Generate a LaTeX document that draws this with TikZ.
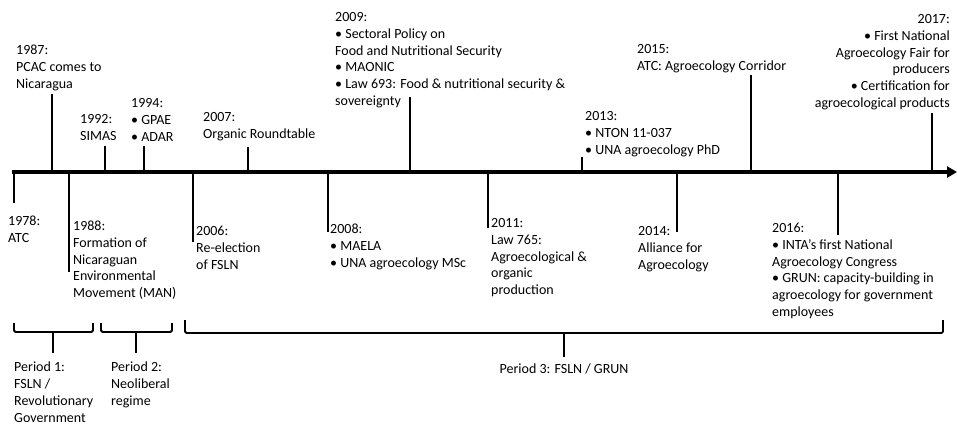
\documentclass[tikz,border=0pt]{standalone}
\usepackage{fontspec}
\setmainfont{Carlito}
\usetikzlibrary{arrows.meta}
\begin{document}
\begin{tikzpicture}[x=1pt,y=-1pt,
  lbl/.style={font=\fontsize{14}{16.7}\selectfont, inner sep=0pt, align=left, anchor=north west},
  lblr/.style={lbl, align=right, anchor=north east},
  tick/.style={line width=1.1pt},
  axis/.style={line width=4pt, -{Triangle[length=10pt,width=11pt]}},
  brace/.style={line width=1.8pt, rounded corners=1.5pt}]
\useasboundingbox (0,0) rectangle (957,421);
% axis
\coordinate (a0) at (12,172);
\coordinate (a1) at (957,172);
\draw[axis] (a0) -- (a1);
% upward ticks
\foreach \n/\x/\t in {u87/52/94, u92/105/146, u94/144/146, u07/248/147, u09/410/97, u13/582/157, u15/751/75, u17/932/113}{
  \coordinate (\n b) at (\x,172);
  \coordinate (\n t) at (\x,\t);
  \draw[tick] (\n b) -- (\n t);
}
% downward ticks
\foreach \n/\x/\t in {d78/14/203, d88/69/272, d06/193/242, d08/328/232, d11/488/228, d14/677/232, d16/838/235}{
  \coordinate (\n b) at (\x,172);
  \coordinate (\n t) at (\x,\t);
  \draw[tick] (\n b) -- (\n t);
}
% upper labels
\node[lbl] (t87) at (16,43) {\strut 1987:\\PCAC comes to\\Nicaragua};
\node[lbl] (t92) at (80,112) {\strut 1992:\\SIMAS};
\node[lbl] (t94) at (131,96) {\strut 1994:\\• GPAE\\• ADAR};
\node[lbl] (t07) at (203,110) {\strut 2007:\\Organic Roundtable};
\node[lbl] (t09) at (335,10) {\strut 2009:\\• Sectoral Policy on\\Food and Nutritional Security\\• MAONIC\\• Law 693: Food \& nutritional security \&\\sovereignty};
\node[lbl] (t13) at (585,109) {\strut 2013:\\• NTON 11-037\\• UNA agroecology PhD};
\node[lbl] (t15) at (637,42) {\strut 2015:\\ATC: Agroecology Corridor};
\node[lblr] (t17) at (950,12) {\strut 2017:\\• First National\\Agroecology Fair for\\producers\\• Certification for\\agroecological products};
% lower labels
\node[lbl] (t78) at (8,214) {\strut 1978:\\ATC};
\node[lbl] (t88) at (73,219) {\strut 1988:\\Formation of\\Nicaraguan\\Environmental\\Movement (MAN)};
\node[lbl] (t06) at (196,224) {\strut 2006:\\Re-election\\of FSLN};
\node[lbl] (t08) at (330,222) {\strut 2008:\\• MAELA\\• UNA agroecology MSc};
\node[lbl] (t11) at (491,216) {\strut 2011:\\Law 765:\\Agroecological \&\\organic\\production};
\node[lbl] (t14) at (638,224) {\strut 2014:\\Alliance for\\Agroecology};
\node[lbl] (t16) at (772,221) {\strut 2016:\\• INTA’s first National\\Agroecology Congress\\• GRUN: capacity-building in\\agroecology for government\\employees};
% periods
\coordinate (p1a) at (14,323); \coordinate (p1b) at (93,323);
\coordinate (p1m) at (53,332); \coordinate (p1s) at (53,353);
\draw[brace] (p1a) -- (14,332) -- (93,332) -- (p1b);
\draw[brace] (p1m) -- (p1s);
\coordinate (p2a) at (101,323); \coordinate (p2b) at (172,323);
\coordinate (p2m) at (136,332); \coordinate (p2s) at (136,353);
\draw[brace] (p2a) -- (101,332) -- (172,332) -- (p2b);
\draw[brace] (p2m) -- (p2s);
\coordinate (p3a) at (185,320); \coordinate (p3b) at (943,320);
\coordinate (p3m) at (564,333); \coordinate (p3s) at (564,357);
\draw[brace] (p3a) -- (185,333) -- (943,333) -- (p3b);
\draw[brace] (p3m) -- (p3s);
\node[lbl] (tp1) at (14,360) {\strut Period 1:\\FSLN /\\Revolutionary\\Government};
\node[lbl] (tp2) at (111,360) {\strut Period 2:\\Neoliberal\\regime};
\node[lbl, anchor=north] (tp3) at (564,362) {\strut Period 3: FSLN / GRUN};
\end{tikzpicture}
\end{document}
